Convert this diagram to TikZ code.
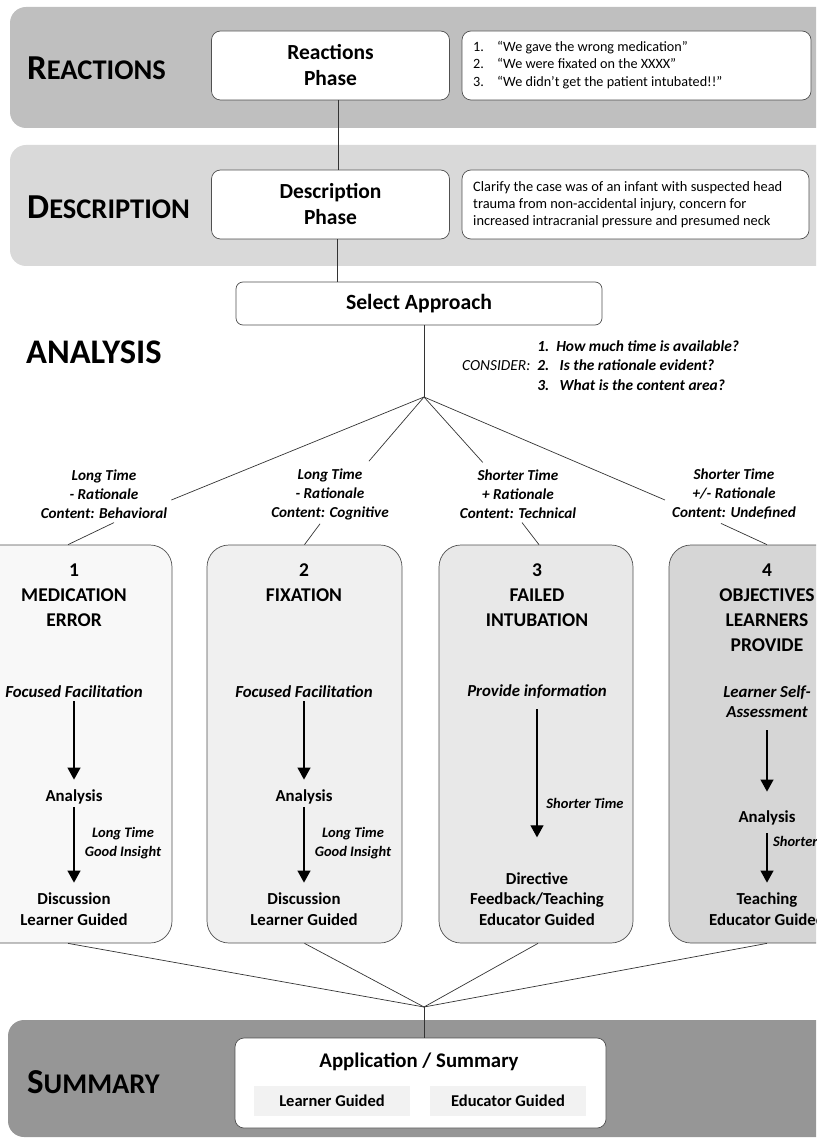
\documentclass[tikz,border=0pt]{standalone}
\usepackage{fontspec}
\setmainfont{Carlito}
\usetikzlibrary{arrows.meta}
\definecolor{bandA}{HTML}{BFBFBF}
\definecolor{bandB}{HTML}{D9D9D9}
\definecolor{bandC}{HTML}{969696}
\definecolor{colA}{HTML}{F8F8F8}
\definecolor{colB}{HTML}{F0F0F0}
\definecolor{colC}{HTML}{E8E8E8}
\definecolor{colD}{HTML}{D6D6D6}
\definecolor{edgec}{HTML}{505050}
\definecolor{innerg}{HTML}{F2F2F2}
\newcommand\fs[2]{\fontsize{#1}{#2}\selectfont}
\begin{document}
\begin{tikzpicture}[x=1pt,y=-1pt,
  bandlab/.style={anchor=west, inner sep=0pt, font=\bfseries},
  whitebox/.style={draw=edgec, line width=0.7pt, fill=white, rounded corners=9pt, align=center, inner sep=0pt},
  colbox/.style={draw=edgec, line width=0.7pt, rounded corners=22pt, inner sep=0pt, minimum height=398pt},
  head/.style={align=center, inner sep=0pt, font={\fs{19.5}{25}\bfseries}},
  step1/.style={align=center, inner sep=0pt, font={\fs{16.8}{20}\bfseries\itshape}},
  mid/.style={align=center, inner sep=0pt, font={\fs{16.8}{20.5}\bfseries}},
  note/.style={align=center, inner sep=0pt, font={\fs{14.5}{19}\bfseries\itshape}},
  lab/.style={align=center, inner sep=0pt, font={\fs{15.2}{19}\bfseries\itshape}},
  conn/.style={draw=black!80, line width=0.7pt},
  arr/.style={draw=black, line width=1.1pt, -{Triangle[width=13pt,length=12pt]}}
]
\useasboundingbox (0,0) rectangle (816,1139);
\clip (0,0) rectangle (816,1139);

% bands
\path[fill=bandA, rounded corners=16pt] (10,7) rectangle (850,128);
\path[fill=bandB, rounded corners=16pt] (10,145) rectangle (850,266);
\path[fill=bandC, rounded corners=16pt] (8,1020) rectangle (850,1137);

\node[bandlab] (lr) at (27,68) {\fs{35}{35}R\fs{28.5}{28}EACTIONS};
\node[bandlab] (ld) at (27,207) {\fs{35}{35}D\fs{28.5}{28}ESCRIPTION};
\node[bandlab] (la) at (26,352) {\fs{34.5}{34}ANALYSIS};
\node[bandlab] (ls) at (27,1082) {\fs{35}{35}S\fs{28.5}{28}UMMARY};

% top boxes
\node[whitebox, minimum width=238pt, minimum height=69pt, font={\fs{21.5}{26}\bfseries}] (rp) at (330.5,65.5) {Reactions\\Phase};
\node[whitebox, minimum width=349pt, minimum height=69pt] (rl) at (636.5,65.5) {};
\node[anchor=west, align=left, inner sep=0pt, font={\fs{14.2}{17.5}}] (rlt) at (473,65) {\makebox[24pt][l]{1.}“We gave the wrong medication”\\\makebox[24pt][l]{2.}“We were fixated on the XXXX”\\\makebox[24pt][l]{3.}“We didn’t get the patient intubated!!”};

\node[whitebox, minimum width=238pt, minimum height=69pt, font={\fs{21.5}{26}\bfseries}] (dp) at (330.5,204.5) {Description\\Phase};
\node[whitebox, minimum width=347pt, minimum height=69pt] (dl) at (635.5,204.5) {};
\node[anchor=west, align=left, inner sep=0pt, font={\fs{14.4}{17}}] (dlt) at (473,205) {Clarify the case was of an infant with suspected head\\trauma from non-accidental injury, concern for\\increased intracranial pressure and presumed neck};

\node[whitebox, minimum width=366pt, minimum height=43pt, rounded corners=7pt, font={\fs{21.7}{25}\bfseries}] (sa) at (419,303.5) {Select Approach};

\draw[conn] ([xshift=7.5pt]rp.south) -- ([xshift=7.5pt]dp.north);
\draw[conn] ([xshift=7pt]dp.south) -- ([xshift=7pt]dp.south |- sa.north);

\coordinate (apex) at (424,397);
\draw[conn] ([xshift=5pt]sa.south) -- (apex);

\node[anchor=west, inner sep=0pt, font={\fs{15.4}{19.5}}] (cons) at (462,367) {\begin{tabular}{@{}r@{\ \ }l@{}} & \bfseries\itshape 1.\ \ How much time is available?\\ \itshape CONSIDER: & \bfseries\itshape 2.\ \ \ Is the rationale evident?\\ & \bfseries\itshape 3.\ \ \ What is the content area?\end{tabular}};

% labels above columns
\node[lab] (l1) at (104,494) {Long Time\\- Rationale\\Content: Behavioral};
\node[lab] (l2) at (330,494) {Long Time\\- Rationale\\Content: Cognitive};
\node[lab] (l3) at (518,494) {Shorter Time\\+ Rationale\\Content: Technical};
\node[lab] (l4) at (734,494) {Shorter Time\\+/- Rationale\\Content: Undefined};

\draw[conn] (apex) -- ([xshift=4pt,yshift=-6pt]l1.east);
\draw[conn] (apex) -- ([xshift=-20pt,yshift=7pt]l2.north east);
\draw[conn] (apex) -- ([xshift=23pt,yshift=7pt]l3.north west);
\draw[conn] (apex) -- ([xshift=-7pt,yshift=-6pt]l4.west);

% column boxes
\node[colbox, fill=colA, minimum width=196pt] (b1) at (74,744) {};
\node[colbox, fill=colB, minimum width=195pt] (b2) at (304.5,744) {};
\node[colbox, fill=colC, minimum width=194pt] (b3) at (536,744) {};
\node[colbox, fill=colD, minimum width=196pt] (b4) at (767,744) {};

\draw[conn] ([xshift=10pt,yshift=-4pt]l1.south) -- ([xshift=-6pt]b1.north);
\draw[conn] ([xshift=-10pt,yshift=-4pt]l2.south) -- (b2.north);
\draw[conn] ([xshift=4pt,yshift=-4pt]l3.south) -- ([xshift=3pt]b3.north);
\draw[conn] ([xshift=-13pt,yshift=-4pt]l4.south) -- (b4.north);

% column 1
\node[head] (h1) at (74,595) {1\\MEDICATION\\ERROR};
\node[step1] (f1) at (74,692) {Focused Facilitation};
\node[mid] (a1) at (74,797) {Analysis};
\node[mid] (d1) at (74,909) {Discussion\\Learner Guided};
\node[note] (n1) at (123,843) {Long Time\\Good Insight};
\draw[arr, shorten <=3pt, shorten >=10pt] (f1.south) -- (a1.north);
\draw[arr, shorten <=3pt, shorten >=10pt] (a1.south) -- (d1.north);

% column 2
\node[head] (h2) at (304,583) {2\\FIXATION};
\node[step1] (f2) at (304,692) {Focused Facilitation};
\node[mid] (a2) at (304,797) {Analysis};
\node[mid] (d2) at (304,909) {Discussion\\Learner Guided};
\node[note] (n2) at (353,843) {Long Time\\Good Insight};
\draw[arr, shorten <=3pt, shorten >=10pt] (f2.south) -- (a2.north);
\draw[arr, shorten <=3pt, shorten >=10pt] (a2.south) -- (d2.north);

% column 3
\node[head] (h3) at (537,595) {3\\FAILED\\INTUBATION};
\node[step1] (f3) at (537,692) {Provide information};
\node[mid] (d3) at (537,899) {Directive\\Feedback/Teaching\\Educator Guided};
\node[note] (n3) at (585,803) {Shorter Time};
\draw[arr, shorten <=10pt, shorten >=35pt] (f3.south) -- (d3.north);

% column 4
\node[head] (h4) at (767,607.5) {4\\OBJECTIVES\\LEARNERS\\PROVIDE};
\node[step1] (f4) at (767,702) {Learner Self-\\Assessment};
\node[mid] (a4) at (767,818) {Analysis};
\node[mid] (d4) at (767,909) {Teaching\\Educator Guided};
\node[note, anchor=west] (n4) at (773,841) {Shorter Time};
\draw[arr, shorten <=12pt, shorten >=19pt] (f4.south) -- (a4.north);
\draw[arr, shorten <=8pt, shorten >=10pt] (a4.south) -- (d4.north);

% converge
\coordinate (conv) at (424,1007);
\draw[conn] ([xshift=-6pt]b1.south) -- (conv);
\draw[conn] (b2.south) -- (conv);
\draw[conn] ([xshift=2pt]b3.south) -- (conv);
\draw[conn] (b4.south) -- (conv);

% summary box
\node[whitebox, minimum width=371pt, minimum height=90pt] (sum) at (420.5,1083) {};
\draw[conn] (conv) -- (conv |- sum.north);
\node[inner sep=0pt, font={\fs{20.8}{24}\bfseries}] (app) at (419,1062) {Application / Summary};
\node[fill=innerg, minimum width=156pt, minimum height=30pt, inner sep=0pt, font={\fs{16.5}{18}\bfseries}] (lg) at (332,1101) {Learner Guided};
\node[fill=innerg, minimum width=156pt, minimum height=30pt, inner sep=0pt, font={\fs{16.5}{18}\bfseries}] (eg) at (508,1101) {Educator Guided};
\end{tikzpicture}
\end{document}
